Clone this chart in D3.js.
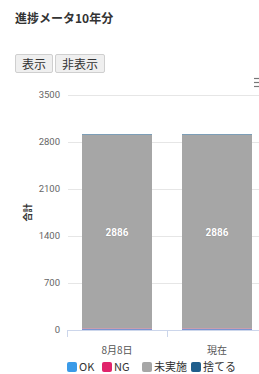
<!DOCTYPE html>
<meta charset="utf-8">
<style>
body { margin: 0; background: #fff; font-family: "Noto Sans CJK JP", "Noto Sans", sans-serif; }
.title { position: absolute; left: 15px; top: 9px; font-size: 12px; font-weight: bold; color: #333; }
.btns { position: absolute; left: 15px; top: 50px; }
.btns button {
  font-family: "Noto Sans CJK JP", sans-serif; font-size: 12px; color: #333;
  background: #efefef; border: 1px solid #cfcfcf; border-radius: 2px;
  padding: 0 6px; height: 19px; line-height: 17px; margin: 0 2px 0 0;
}
svg { position: absolute; left: 0; top: 0; }
.grid line { stroke: #e6e6e6; }
.ytick text { fill: #666; font-size: 9.5px; font-family: Roboto, sans-serif; }
</style>
<div class="title">進捗メータ10年分</div>
<div class="btns"><button>表示</button><button>非表示</button></div>
<svg id="svg" width="259" height="374"></svg>
<script src="https://d3js.org/d3.v7.min.js"></script>
<script>

var categories = ["8月8日", "現在"];
var seriesNames = ["OK", "NG", "未実施", "捨てる"];
var seriesColors = ["#3b9be8", "#e0246b", "#a6a6a6", "#1f5e8c"];
var okValues = [12, 12];
var ngValues = [10, 10];
var mijisshiValues = [2886, 2886];
var suteruValues = [8, 8];
var yTicks = [0, 700, 1400, 2100, 2800, 3500];

var svg = d3.select("svg");

var x = d3.scaleBand().domain(categories).range([67, 267]).paddingInner(0).paddingOuter(0);
var y = d3.scaleLinear().domain([0, 3500]).range([330, 95]);

var rows = categories.map(function(c, i) {
  return { cat: c, OK: okValues[i], NG: ngValues[i], "未実施": mijisshiValues[i], "捨てる": suteruValues[i] };
});
// bottom to top: OK, NG, 未実施, 捨てる
var stack = d3.stack().keys(seriesNames)(rows);

// gridlines + y labels
var grid = svg.append("g").attr("class", "grid");
grid.selectAll("line").data(yTicks).enter().append("line")
  .attr("x1", 68).attr("x2", 259)
  .attr("y1", function(d) { return Math.round(y(d)) + 0.5; })
  .attr("y2", function(d) { return Math.round(y(d)) + 0.5; });

var yl = svg.append("g").attr("class", "ytick");
yl.selectAll("text").data(yTicks).enter().append("text")
  .attr("x", 60).attr("y", function(d) { return y(d) + 3; })
  .attr("text-anchor", "end")
  .text(function(d) { return d; });

svg.append("text")
  .attr("transform", "translate(31," + y(1750) + ") rotate(-90)")
  .attr("text-anchor", "middle")
  .attr("font-size", 9).attr("font-weight", "bold").attr("fill", "#333")
  .text("合計");

// bars
var bw = 70;
svg.append("g").selectAll("g").data(stack).enter().append("g")
  .attr("fill", function(d, i) { return seriesColors[i]; })
  .selectAll("rect").data(function(d) { return d; }).enter().append("rect")
  .attr("x", function(d) { return x(d.data.cat) + (x.bandwidth() - bw) / 2; })
  .attr("width", bw)
  .attr("y", function(d) { return y(d[1]); })
  .attr("height", function(d) { return y(d[0]) - y(d[1]); });

// data labels for 未実施
var mid = stack[2];
svg.append("g").selectAll("text").data(mid).enter().append("text")
  .attr("x", function(d) { return x(d.data.cat) + x.bandwidth() / 2; })
  .attr("y", function(d) { return (y(d[0]) + y(d[1])) / 2 + 4; })
  .attr("text-anchor", "middle")
  .attr("font-size", 10).attr("font-weight", "bold").attr("fill", "#fff")
  .attr("font-family", "Roboto, sans-serif")
  .style("paint-order", "stroke").attr("stroke", "#888").attr("stroke-width", 0.6)
  .text(function(d) { return d[1] - d[0]; });

// x axis line and ticks
svg.append("line").attr("x1", 67).attr("x2", 259).attr("y1", 330.5).attr("y2", 330.5).attr("stroke", "#ccd6eb");
svg.append("g").selectAll("line").data(categories).enter().append("line")
  .attr("x1", function(d) { return x(d) + 0.5; }).attr("x2", function(d) { return x(d) + 0.5; })
  .attr("y1", 330).attr("y2", 337).attr("stroke", "#ccd6eb");

svg.append("g").selectAll("text").data(categories).enter().append("text")
  .attr("x", function(d) { return x(d) + x.bandwidth() / 2; })
  .attr("y", 354)
  .attr("text-anchor", "middle")
  .attr("font-size", 10).attr("fill", "#555")
  .text(function(d) { return d; });

// legend
var legendX = [67, 102, 142, 191];
var lg = svg.append("g").selectAll("g").data(seriesNames).enter().append("g")
  .attr("transform", function(d, i) { return "translate(" + legendX[i] + ",362)"; });
lg.append("rect").attr("width", 10).attr("height", 10).attr("rx", 2)
  .attr("fill", function(d, i) { return seriesColors[i]; });
lg.append("text").attr("x", 12).attr("y", 9)
  .attr("font-size", 11).attr("fill", "#333")
  .text(function(d) { return d; });

// menu icon
svg.append("g").selectAll("line").data([0, 1, 2]).enter().append("line")
  .attr("x1", 254).attr("x2", 262)
  .attr("y1", function(d) { return 78.5 + d * 4; })
  .attr("y2", function(d) { return 78.5 + d * 4; })
  .attr("stroke", "#777").attr("stroke-width", 1.2);

</script>
